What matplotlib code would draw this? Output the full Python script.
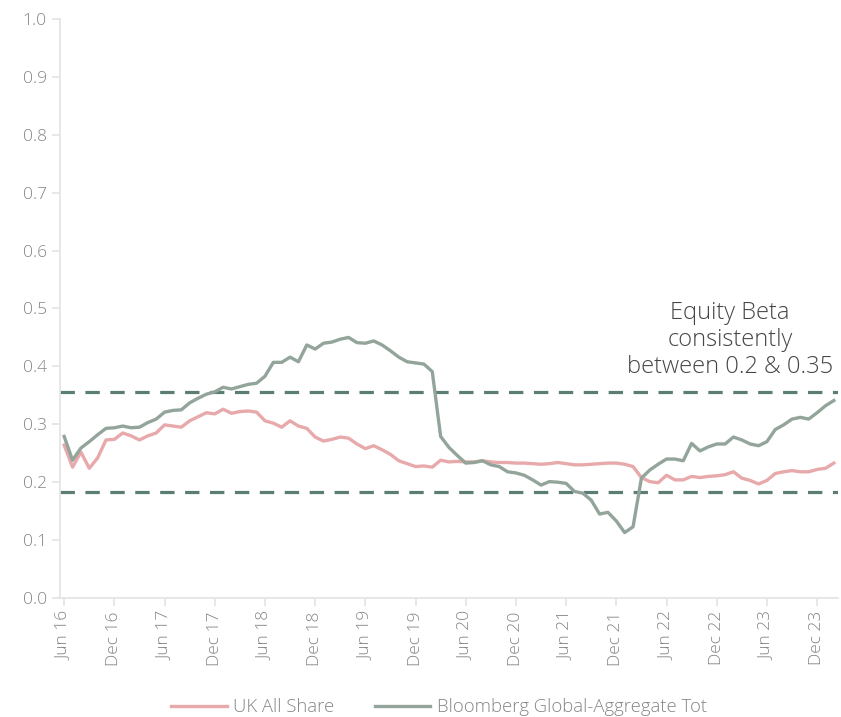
import matplotlib.pyplot as plt

plt.rcParams['font.family'] = ['Open Sans', 'DejaVu Sans']

# monthly betas, Jun 2016 .. Feb 2024
uk_all_share = [
    0.264, 0.226, 0.252, 0.224, 0.242, 0.273, 0.274, 0.285, 0.280, 0.273,
    0.280, 0.285, 0.299, 0.297, 0.295, 0.306, 0.313, 0.320, 0.318, 0.326,
    0.319, 0.322, 0.323, 0.321, 0.306, 0.302, 0.295, 0.306, 0.297, 0.293,
    0.278, 0.271, 0.274, 0.278, 0.276, 0.266, 0.258, 0.263, 0.256, 0.248,
    0.237, 0.232, 0.227, 0.228, 0.226, 0.238, 0.235, 0.236, 0.235, 0.235,
    0.237, 0.235, 0.234, 0.234, 0.233, 0.233, 0.232, 0.231, 0.232, 0.234,
    0.232, 0.230, 0.230, 0.231, 0.232, 0.233, 0.233, 0.231, 0.227, 0.208,
    0.201, 0.199, 0.212, 0.204, 0.204, 0.210, 0.208, 0.210, 0.211, 0.213,
    0.218, 0.207, 0.203, 0.197, 0.203, 0.215, 0.218, 0.220, 0.218, 0.218,
    0.222, 0.224, 0.233,
]
bbg_global_agg = [
    0.279, 0.238, 0.259, 0.270, 0.282, 0.293, 0.294, 0.297, 0.294, 0.295,
    0.303, 0.309, 0.321, 0.324, 0.325, 0.337, 0.345, 0.352, 0.356, 0.364,
    0.361, 0.365, 0.369, 0.371, 0.383, 0.407, 0.407, 0.416, 0.408, 0.437,
    0.430, 0.440, 0.442, 0.447, 0.450, 0.441, 0.440, 0.444, 0.437, 0.427,
    0.416, 0.408, 0.406, 0.404, 0.391, 0.279, 0.260, 0.246, 0.233, 0.234,
    0.237, 0.230, 0.227, 0.218, 0.216, 0.212, 0.204, 0.195, 0.201, 0.200,
    0.198, 0.184, 0.181, 0.169, 0.145, 0.148, 0.133, 0.113, 0.123, 0.207,
    0.221, 0.231, 0.240, 0.240, 0.237, 0.267, 0.254, 0.261, 0.266, 0.266,
    0.278, 0.273, 0.266, 0.263, 0.270, 0.291, 0.299, 0.309, 0.312, 0.309,
    0.320, 0.332, 0.341,
]
tick_labels = ['Jun 16', 'Dec 16', 'Jun 17', 'Dec 17', 'Jun 18', 'Dec 18',
               'Jun 19', 'Dec 19', 'Jun 20', 'Dec 20', 'Jun 21', 'Dec 21',
               'Jun 22', 'Dec 22', 'Jun 23', 'Dec 23']
upper_band = 0.356
lower_band = 0.183

x = list(range(len(uk_all_share)))
tick_pos = x[::6][:len(tick_labels)]

fig = plt.figure(figsize=(8.41, 7.17), dpi=100)
ax = fig.add_axes([60 / 841, 1 - 598 / 717, 778 / 841, 579 / 717])

ax.axhline(upper_band, color='#5b7d73', lw=2.3, ls=(0, (4.5, 3.3)), zorder=1)
ax.axhline(lower_band, color='#5b7d73', lw=2.3, ls=(0, (4.5, 3.3)), zorder=1)
ax.plot(x, uk_all_share, color='#e8a9ab', lw=2.4, label='UK All Share', zorder=2)
ax.plot(x, bbg_global_agg, color='#93a59a', lw=2.4,
        label='Bloomberg Global-Aggregate Tot', zorder=3)

ax.text(79.6, 0.446, 'Equity Beta\nconsistently\nbetween 0.2 & 0.35',
        ha='center', va='center', fontsize=17, color='#454545',
        fontweight='light', linespacing=1.17)

ax.set_xlim(-0.5, 92.5)
ax.set_ylim(0, 1.0)
ax.set_yticks([i / 10 for i in range(11)])
ax.set_yticklabels([f'{i / 10:.1f}' for i in range(11)], fontweight='light')
ax.set_xticks(tick_pos)
ax.set_xticklabels(tick_labels, rotation=90, fontweight='light')

for s in ['top', 'right']:
    ax.spines[s].set_visible(False)
for s in ['left', 'bottom']:
    ax.spines[s].set_color('#e3e3e3')
    ax.spines[s].set_linewidth(1.2)
ax.tick_params(colors='#e3e3e3', labelcolor='#858585', labelsize=12.5,
               length=6, width=1.2)

fig.legend(loc='lower center', bbox_to_anchor=(0.522, -0.022), ncol=2,
           frameon=False, handlelength=3.0, handletextpad=0.35,
           columnspacing=2.2, labelcolor='#858585',
           prop={'size': 13.3, 'weight': 'light'})

fig.savefig('out.png', dpi=100)
